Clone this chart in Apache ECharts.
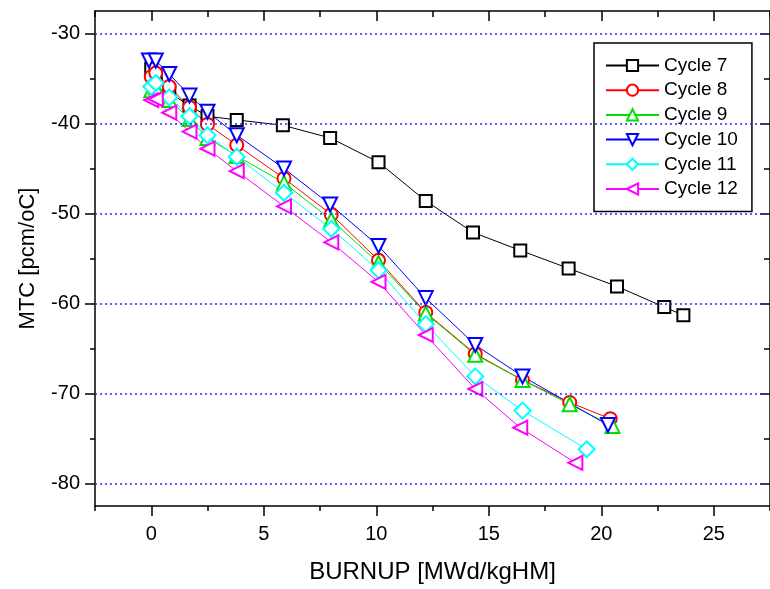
<!DOCTYPE html>
<html>
<head>
<meta charset="utf-8">
<script src="https://cdn.jsdelivr.net/npm/echarts@6/dist/echarts.min.js"></script>
<style>html,body{margin:0;padding:0;background:#fff;}#c{width:770px;height:589px;}</style>
</head>
<body>
<div id="c"></div>
<script>
var seriesNames = ['Cycle 7', 'Cycle 8', 'Cycle 9', 'Cycle 10', 'Cycle 11', 'Cycle 12'];
var x7 = [0, 0.2, 0.8, 1.7, 2.5, 3.8, 5.85, 7.95, 10.1, 12.2, 14.3, 16.4, 18.55, 20.7, 22.8, 23.65];
var y7 = [-33.9, -34.6, -36.6, -38.0, -39.2, -39.6, -40.2, -41.6, -44.3, -48.6, -52.1, -54.1, -56.1, -58.1, -60.4, -61.3];
var x8 = [0, 0.2, 0.8, 1.7, 2.5, 3.8, 5.9, 8.0, 10.1, 12.2, 14.4, 16.5, 18.6, 20.4];
var y8 = [-34.8, -34.4, -35.9, -38.2, -40.1, -42.4, -46.1, -50.1, -55.2, -61.0, -65.6, -68.5, -71.0, -72.8];
var x9 = [0, 0.2, 0.8, 1.7, 2.5, 3.8, 5.9, 8.0, 10.1, 12.2, 14.4, 16.5, 18.6, 20.5];
var y9 = [-36.3, -36.0, -37.4, -39.5, -41.6, -43.6, -46.6, -50.7, -55.5, -61.1, -65.7, -68.5, -71.2, -73.6];
var x10 = [-0.1, 0.2, 0.8, 1.7, 2.5, 3.8, 5.9, 7.95, 10.1, 12.2, 14.4, 16.5, 20.3];
var y10 = [-33.0, -33.0, -34.5, -36.9, -38.7, -41.3, -45.0, -49.0, -53.6, -59.4, -64.6, -68.1, -73.5];
var x11 = [0, 0.2, 0.8, 1.7, 2.5, 3.8, 5.9, 8.0, 10.1, 12.2, 14.4, 16.5, 19.35];
var y11 = [-35.9, -35.5, -37.1, -39.2, -41.3, -43.7, -47.7, -51.7, -56.3, -62.3, -68.1, -71.9, -76.2];
var x12 = [0, 0.2, 0.8, 1.7, 2.5, 3.8, 5.9, 8.0, 10.1, 12.2, 14.4, 16.4, 18.85];
var y12 = [-37.4, -37.3, -38.8, -40.9, -42.8, -45.3, -49.2, -53.2, -57.6, -63.5, -69.5, -73.8, -77.7];
var xMajorTicks = [0, 5, 10, 15, 20, 25];
var xMinorTicks = [-2.5, 2.5, 7.5, 12.5, 17.5, 22.5, 27.5];
var yMajorTicks = [-30, -40, -50, -60, -70, -80];
var yMinorTicks = [-35, -45, -55, -65, -75];
var gridLineValues = [-30, -40, -50, -60, -70, -80];

var FONT = '"Liberation Sans", Arial, sans-serif';
var colors = ['#000000', '#ff0000', '#00e000', '#0000ff', '#00ffff', '#ff00ff'];
var symbols = ['emptyRect', 'emptyCircle', 'emptyTriangle', 'emptyTriangle', 'emptyDiamond', 'emptyTriangle'];
var rotates = [0, 0, 0, 180, 0, 90];
var sizes = [12, 13, 14, 14, 16, 14];
var xs = [x7, x8, x9, x10, x11, x12];
var ys = [y7, y8, y9, y10, y11, y12];

function zip(a, b) { return a.map(function (v, i) { return [v, b[i]]; }); }

var series = seriesNames.map(function (n, i) {
  var s = {
    name: n, type: 'line', data: zip(xs[i], ys[i]),
    xAxisIndex: 0, yAxisIndex: 0,
    symbol: symbols[i], symbolSize: sizes[i], symbolRotate: rotates[i],
    showAllSymbol: true,
    lineStyle: { color: colors[i], width: 1 },
    itemStyle: { color: colors[i], borderColor: colors[i], borderWidth: 1.7 },
    animation: false
  };
  if (i === 0) {
    s.markLine = {
      silent: true, symbol: 'none', animation: false,
      label: { show: false },
      lineStyle: { color: '#2a2aff', type: [2, 3], width: 1.5, opacity: 1 },
      emphasis: { disabled: true },
      data: gridLineValues.map(function (v) { return { yAxis: v }; })
    };
  }
  return s;
});

function xAx(pos, vals, len, inside, showLine, labels, name) {
  return {
    type: 'value', gridIndex: 0, position: pos, min: -2.5, max: 27.5,
    axisLine: { show: showLine, onZero: false, lineStyle: { color: '#000', width: 1.5 } },
    axisTick: { show: true, inside: inside, length: len, customValues: vals, lineStyle: { color: '#000', width: 1.5 } },
    axisLabel: labels ? { show: true, customValues: vals, color: '#000', fontSize: 20, fontFamily: FONT, margin: 18 } : { show: false },
    splitLine: { show: false },
    name: name || '', nameLocation: 'middle', nameGap: 54,
    nameTextStyle: { color: '#000', fontSize: 24, fontFamily: FONT }
  };
}
function yAx(pos, vals, len, inside, showLine, labels, name) {
  return {
    type: 'value', gridIndex: 0, position: pos, min: -82.5, max: -27.5,
    axisLine: { show: showLine, onZero: false, lineStyle: { color: '#000', width: 1.5 } },
    axisTick: { show: true, inside: inside, length: len, customValues: vals, lineStyle: { color: '#000', width: 1.5 } },
    axisLabel: labels ? { show: true, customValues: vals, color: '#000', fontSize: 20, fontFamily: FONT, margin: 15 } : { show: false },
    splitLine: { show: false },
    name: name || '', nameLocation: 'middle', nameGap: 56, nameRotate: 90,
    nameTextStyle: { color: '#000', fontSize: 22, fontFamily: FONT }
  };
}

var option = {
  backgroundColor: '#fff',
  animation: false,
  grid: { left: 95, top: 11, width: 678, height: 495, containLabel: false },
  legend: {
    data: seriesNames, orient: 'vertical', left: 594, top: 43,
    padding: [13, 14, 13, 11], itemWidth: 53, itemHeight: 14, itemGap: 5.7,
    borderColor: '#000', borderWidth: 1.5, backgroundColor: '#fff',
    textStyle: { color: '#000', fontSize: 19, fontFamily: FONT, lineHeight: 19 }
  },
  xAxis: [
    xAx('bottom', xMajorTicks, 10, false, true, true, 'BURNUP [MWd/kgHM]'),
    xAx('bottom', xMinorTicks, 5, false, false, false),
    xAx('top', xMajorTicks, 10, true, true, false),
    xAx('top', xMinorTicks, 6, true, false, false)
  ],
  yAxis: [
    yAx('left', yMajorTicks, 10, false, true, true, 'MTC [pcm/oC]'),
    yAx('left', yMinorTicks, 5, false, false, false),
    yAx('right', yMajorTicks, 10, true, true, false),
    yAx('right', yMinorTicks, 6, true, false, false)
  ],
  series: series
};
var chart = echarts.init(document.getElementById('c'), null, { renderer: 'canvas' });
chart.setOption(option);
</script>
</body>
</html>
